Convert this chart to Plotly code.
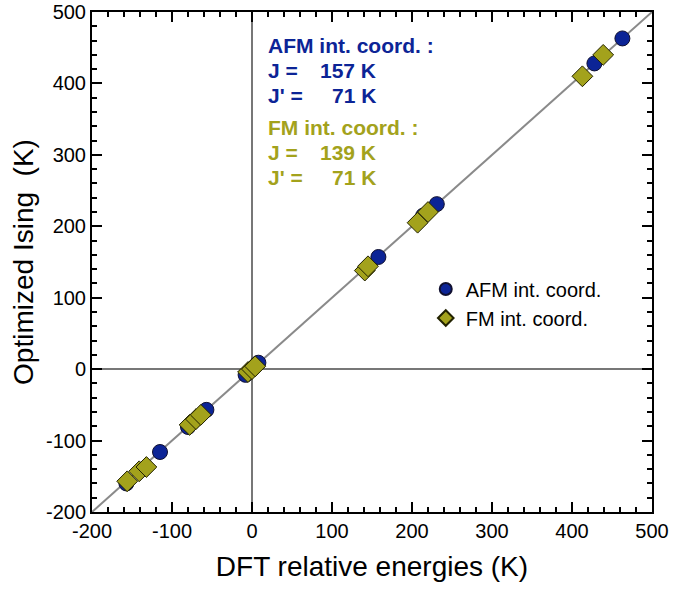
import plotly.graph_objects as go

# AFM internal coordinates: DFT vs Ising
afm_dft = [-157, -115, -80, -57, -8, 8, 158, 214, 231, 428, 463]
afm_ising = [-160, -116, -81, -57, -8, 9, 157, 215, 231, 428, 463]
# FM internal coordinates
fm_dft = [-156, -141, -132, -78, -70, -64, -5, 0, 4, 141, 145, 207, 220, 413, 439]
fm_ising = [-157, -143, -137, -78, -70, -64, -4, 0, 4, 138, 144, 205, 220, 410, 440]

diag = [-200, 500]
tick_vals = [-200, -100, 0, 100, 200, 300, 400, 500]
tick_text = ["-200", "-100", "0", "100", "200", "300", "400", "500"]

BLUE = "#0c2496"
OLIVE = "#a3a21c"
FONT = "Liberation Sans, Arial, Helvetica, sans-serif"

fig = go.Figure()
fig.add_trace(go.Scatter(x=diag, y=diag, mode="lines",
                         line=dict(color="#8a8a8a", width=2), showlegend=False,
                         hoverinfo="skip"))
fig.add_trace(go.Scatter(x=afm_dft, y=afm_ising, mode="markers", name="AFM int. coord.",
                         marker=dict(symbol="circle", size=15, color=BLUE,
                                     line=dict(color="#101030", width=1))))
fig.add_trace(go.Scatter(x=fm_dft, y=fm_ising, mode="markers", name="FM int. coord.",
                         marker=dict(symbol="diamond", size=16, color=OLIVE,
                                     line=dict(color="#222200", width=1))))

axis_common = dict(
    range=[-200, 500], tickvals=tick_vals, ticktext=tick_text, ticks="inside",
    ticklen=10, tickwidth=2,
    tickcolor="black", showline=True, linecolor="black", linewidth=2, mirror="ticks",
    showgrid=False, zeroline=True, zerolinecolor="#777777", zerolinewidth=2,
    tickfont=dict(family=FONT, size=20, color="black"),
    minor=dict(dtick=20, ticks="inside", ticklen=5, tickwidth=1.5, tickcolor="black"),
)

fig.update_layout(
    width=673, height=594,
    margin=dict(l=92, r=21, t=12, b=82, autoexpand=False),
    paper_bgcolor="white", plot_bgcolor="white",
    xaxis=dict(axis_common, automargin=False,
               title=dict(text="DFT relative energies (K)",
                          font=dict(family=FONT, size=28, color="black"))),
    yaxis=dict(axis_common, automargin=True,
               title=dict(text="Optimized Ising  (K)",
                          font=dict(family=FONT, size=28, color="black"),
                          standoff=4)),
    legend=dict(x=0.596, y=0.485, xanchor="left", yanchor="top",
                font=dict(family=FONT, size=20, color="black"),
                bgcolor="rgba(0,0,0,0)", tracegroupgap=0, itemsizing="constant"),
    showlegend=True,
)

def ann(x, y, text, color, xanchor="left"):
    fig.add_annotation(x=x, y=y, xref="x", yref="y", text="<b>" + text + "</b>",
                       showarrow=False, xanchor=xanchor, yanchor="middle",
                       font=dict(family=FONT, size=21, color=color))

ann(17, 453, "AFM int. coord. :", BLUE)
ann(17, 418, "J =", BLUE)
ann(157, 418, "157 K", BLUE, "right")
ann(17, 383, "J' =", BLUE)
ann(157, 383, "71 K", BLUE, "right")
ann(17, 338, "FM int. coord. :", OLIVE)
ann(17, 303, "J =", OLIVE)
ann(157, 303, "139 K", OLIVE, "right")
ann(17, 268, "J' =", OLIVE)
ann(157, 268, "71 K", OLIVE, "right")

fig.write_html("out.html", config={"displayModeBar": False},
               post_script="document.body.style.margin='0px';")
